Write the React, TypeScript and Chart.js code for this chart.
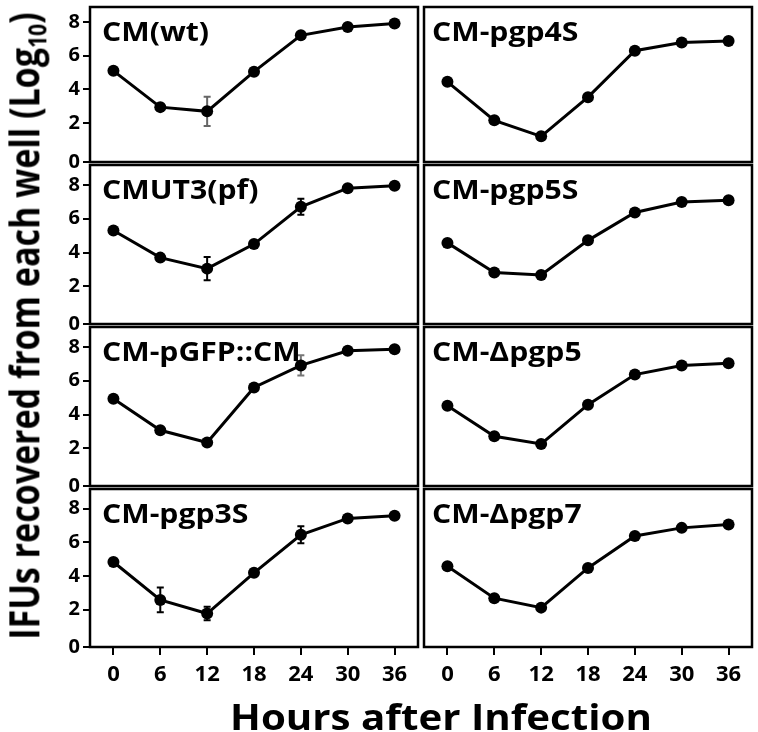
import React, { useEffect, useRef } from 'react';
import { Chart, registerables } from 'chart.js';

Chart.register(...registerables);

// ---------------- data ----------------
const HOURS = ['0', '6', '12', '18', '24', '30', '36'];
const Y_TICKS = [0, 2, 4, 6, 8];
const Y_TICK_LABELS = ['0', '2', '4', '6', '8'];

const CM_WT = [5.1, 2.95, 2.7, 5.05, 7.2, 7.7, 7.9];
const CM_WT_ERR = [0, 0, 0.87, 0, 0, 0, 0];
const CMUT3_PF = [5.3, 3.7, 3.05, 4.5, 6.7, 7.8, 7.95];
const CMUT3_PF_ERR = [0, 0, 0.68, 0, 0.47, 0, 0];
const CM_PGFP_CM = [4.93, 3.07, 2.35, 5.6, 6.9, 7.77, 7.86];
const CM_PGFP_CM_ERR = [0, 0, 0, 0, 0.6, 0, 0];
const CM_PGP3S = [4.83, 2.58, 1.77, 4.19, 6.45, 7.42, 7.58];
const CM_PGP3S_ERR = [0, 0.73, 0.4, 0, 0.51, 0, 0];
const CM_PGP4S = [4.45, 2.17, 1.22, 3.54, 6.29, 6.78, 6.87];
const CM_PGP5S = [4.57, 2.82, 2.68, 4.72, 6.37, 6.99, 7.09];
const CM_DPGP5 = [4.52, 2.72, 2.26, 4.58, 6.36, 6.9, 7.03];
const CM_DPGP7 = [4.58, 2.68, 2.12, 4.48, 6.38, 6.86, 7.06];
const NO_ERR = [0, 0, 0, 0, 0, 0, 0];

const TITLES = ['CM(wt)', 'CM-pgp4S', 'CMUT3(pf)', 'CM-pgp5S', 'CM-pGFP::CM', 'CM-\u0394pgp5', 'CM-pgp3S', 'CM-\u0394pgp7'];

// ---------------- layout / style ----------------
const FONT = '"Open Sans", "DejaVu Sans", sans-serif';
const ROW_TOP = [4, 162, 324, 486];
const ROW_BOTTOM = [162, 324, 486, 647];
const COL_LEFT = [90, 421];
const COL_RIGHT = [421, 752];
const ROW_MIN = [-0.3, -0.22, -0.22, -0.22];
const ROW_MAX = [8.88, 9.17, 9.17, 9.17];
const PAD = 3;
const X_AXIS_H = 50;
const BOTTOM_PAD = 14;

type Panel = { title: string; values: number[]; errors: number[]; errColor: string; row: number; col: number };

const PANELS: Panel[] = [
  { title: TITLES[0], values: CM_WT, errors: CM_WT_ERR, errColor: '#666', row: 0, col: 0 },
  { title: TITLES[1], values: CM_PGP4S, errors: NO_ERR, errColor: '#000', row: 0, col: 1 },
  { title: TITLES[2], values: CMUT3_PF, errors: CMUT3_PF_ERR, errColor: '#000', row: 1, col: 0 },
  { title: TITLES[3], values: CM_PGP5S, errors: NO_ERR, errColor: '#000', row: 1, col: 1 },
  { title: TITLES[4], values: CM_PGFP_CM, errors: CM_PGFP_CM_ERR, errColor: '#777', row: 2, col: 0 },
  { title: TITLES[5], values: CM_DPGP5, errors: NO_ERR, errColor: '#000', row: 2, col: 1 },
  { title: TITLES[6], values: CM_PGP3S, errors: CM_PGP3S_ERR, errColor: '#000', row: 3, col: 0 },
  { title: TITLES[7], values: CM_DPGP7, errors: NO_ERR, errColor: '#000', row: 3, col: 1 },
];

function PanelChart({ p }: { p: Panel }) {
  const ref = useRef<HTMLCanvasElement>(null);
  const isLeft = p.col === 0;
  const isBottom = p.row === 3;
  const canvasLeft = isLeft ? 0 : COL_LEFT[1] - PAD;
  const canvasRight = isLeft ? COL_RIGHT[0] + PAD : 758;
  const canvasTop = ROW_TOP[p.row] - PAD;
  const plotH = ROW_BOTTOM[p.row] - ROW_TOP[p.row];
  const width = canvasRight - canvasLeft;
  const height = PAD + plotH + (isBottom ? X_AXIS_H : BOTTOM_PAD);

  useEffect(() => {
    const canvas = ref.current;
    if (!canvas) return;

    const frame = {
      id: 'frame',
      afterDraw(chart: any) {
        const { ctx, chartArea: a } = chart;
        ctx.save();
        ctx.strokeStyle = '#000';
        ctx.lineWidth = 2.5;
        ctx.strokeRect(a.left, a.top, a.right - a.left, a.bottom - a.top);
        ctx.restore();
      },
    };

    const panelTitle = {
      id: 'panelTitle',
      beforeDatasetsDraw(chart: any) {
        const { ctx, chartArea: a } = chart;
        ctx.save();
        ctx.font = `bold 26px ${FONT}`;
        ctx.fillStyle = '#000';
        ctx.textBaseline = 'alphabetic';
        ctx.textAlign = 'left';
        ctx.translate(a.left + (isLeft ? 12 : 8), a.top + 34);
        ctx.scale(1.16, 1);
        ctx.fillText(p.title, 0, 0);
        ctx.restore();
      },
    };

    const errorBars = {
      id: 'errorBars',
      beforeDatasetsDraw(chart: any) {
        const { ctx } = chart;
        const yScale = chart.scales.y;
        const meta = chart.getDatasetMeta(0);
        ctx.save();
        ctx.strokeStyle = p.errColor;
        ctx.lineWidth = 2;
        p.errors.forEach((e, i) => {
          if (!e) return;
          const x = meta.data[i].x;
          const yTop = yScale.getPixelForValue(p.values[i] + e);
          const yBot = yScale.getPixelForValue(p.values[i] - e);
          ctx.beginPath();
          ctx.moveTo(x, yTop);
          ctx.lineTo(x, yBot);
          ctx.moveTo(x - 3.5, yTop);
          ctx.lineTo(x + 3.5, yTop);
          ctx.moveTo(x - 3.5, yBot);
          ctx.lineTo(x + 3.5, yBot);
          ctx.stroke();
        });
        ctx.restore();
      },
    };

    const chart = new Chart(canvas, {
      type: 'line',
      data: {
        labels: HOURS,
        datasets: [
          {
            data: p.values,
            borderColor: '#000',
            backgroundColor: '#000',
            borderWidth: 3,
            pointRadius: 6,
            pointBackgroundColor: '#000',
            pointBorderColor: '#000',
            pointBorderWidth: 0,
            tension: 0,
            fill: false,
          },
        ],
      },
      options: {
        animation: false,
        responsive: false,
        maintainAspectRatio: false,
        devicePixelRatio: 1,
        layout: {
          padding: {
            top: PAD,
            left: isLeft ? 0 : PAD,
            right: isLeft ? PAD : 758 - COL_RIGHT[1],
            bottom: isBottom ? 0 : BOTTOM_PAD,
          },
        },
        plugins: {
          legend: { display: false },
          tooltip: { enabled: false },
          title: { display: false },
        },
        scales: {
          x: {
            type: 'category',
            offset: true,
            display: isBottom,
            grid: {
              display: true,
              drawOnChartArea: false,
              drawTicks: true,
              tickLength: 8,
              offset: false,
              color: '#000',
              lineWidth: 2,
            },
            border: { display: false },
            ticks: {
              color: '#000',
              font: { family: FONT, size: 22, weight: 'bold' },
              padding: 7,
              maxRotation: 0,
              autoSkip: false,
            },
            afterFit: (s: any) => {
              if (!isBottom) return;
              s.height = X_AXIS_H;
              s.paddingLeft = 0;
              s.paddingRight = 0;
            },
          },
          y: {
            type: 'linear',
            min: ROW_MIN[p.row],
            max: ROW_MAX[p.row],
            display: isLeft,
            grid: {
              display: true,
              drawOnChartArea: false,
              drawTicks: true,
              tickLength: 7,
              color: '#000',
              lineWidth: 2,
            },
            border: { display: false },
            ticks: {
              color: '#000',
              font: { family: FONT, size: 20, weight: 'bold' },
              padding: 3,
              callback: (_v: any, i: number) => Y_TICK_LABELS[i],
            },
            afterBuildTicks: (s: any) => {
              s.ticks = Y_TICKS.map((v) => ({ value: v === 0 ? s.min : v }));
            },
            afterFit: (s: any) => {
              if (!isLeft) return;
              s.width = COL_LEFT[0];
              s.paddingTop = 0;
              s.paddingBottom = 0;
            },
          },
        },
      } as any,
      plugins: [errorBars, panelTitle, frame],
    });
    return () => chart.destroy();
  }, []);

  return (
    <canvas
      ref={ref}
      width={width}
      height={height}
      style={{ position: 'absolute', left: canvasLeft, top: canvasTop, width, height }}
    />
  );
}

export default function App() {
  return (
    <div style={{ position: 'absolute', left: 0, top: 0, width: 758, height: 732, background: '#fff', overflow: 'hidden' }}>
      {PANELS.map((p, i) => (
        <PanelChart key={i} p={p} />
      ))}
      <div
        style={{
          position: 'absolute',
          left: 26,
          top: 326,
          transform: 'translate(-50%, -50%) rotate(-90deg) scale(1, 1.2)',
          whiteSpace: 'nowrap',
          fontFamily: FONT,
          fontWeight: 700,
          fontSize: 34,
          lineHeight: 1,
          color: '#000',
        }}
      >
        IFUs recovered from each well (Log<sub style={{ fontSize: '0.62em', verticalAlign: '-0.25em' }}>10</sub>)
      </div>
      <div
        style={{
          position: 'absolute',
          left: 441,
          top: 716,
          transform: 'translate(-50%, -50%) scale(1.15, 1)',
          whiteSpace: 'nowrap',
          fontFamily: FONT,
          fontWeight: 700,
          fontSize: 35,
          lineHeight: 1,
          color: '#000',
        }}
      >
        Hours after Infection
      </div>
    </div>
  );
}
